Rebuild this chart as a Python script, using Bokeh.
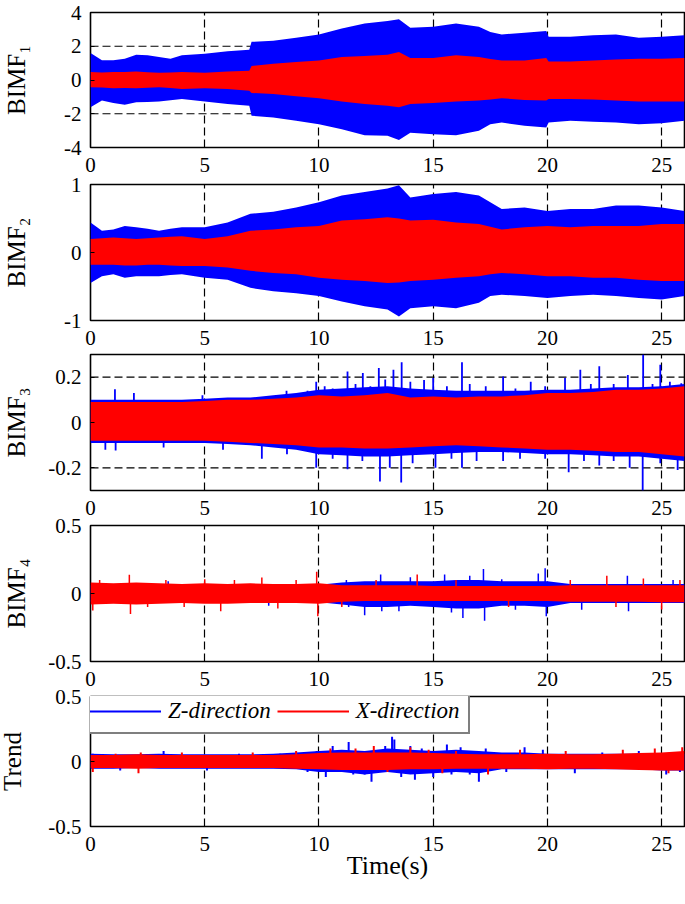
from bokeh.plotting import figure
from bokeh.layouts import column
from bokeh.models import Range1d, FixedTicker, Span, Legend, LegendItem
from bokeh.embed import file_html
from bokeh.resources import INLINE

# ---------------- data ----------------
XTICKS = [0, 5, 10, 15, 20, 25]

# BIMF1 envelopes
T1 = [0, 0.5, 1, 1.5, 2, 2.5, 3, 3.5, 4, 5, 6, 6.95, 7.05, 8, 9, 10, 11, 12, 13, 13.5,
      14, 15, 16, 17, 17.5, 18, 19, 19.95, 20.05, 21, 22, 23, 24, 25, 26]
Z1_hi = [1.6, 1.17, 1.17, 1.26, 1.5, 1.46, 1.36, 1.26, 1.46, 1.56, 1.7, 1.8, 2.26, 2.32, 2.5, 2.7, 3.05, 3.35, 3.5, 3.6,
         3.1, 3.15, 3.35, 3.15, 2.85, 2.7, 2.8, 2.9, 2.56, 2.56, 2.65, 2.7, 2.5, 2.56, 2.65]
Z1_lo = [-1.62, -1.22, -1.36, -1.46, -1.32, -1.3, -1.28, -1.2, -1.12, -1.28, -1.42, -1.52, -2.12, -2.22, -2.42, -2.62, -2.92, -3.27, -3.31, -3.55,
         -3.12, -3.21, -3.27, -3.01, -2.62, -2.52, -2.71, -2.81, -2.52, -2.42, -2.48, -2.52, -2.62, -2.56, -2.42]
X1_hi = [0.47, 0.45, 0.47, 0.48, 0.5, 0.46, 0.43, 0.45, 0.47, 0.43, 0.5, 0.55, 0.83, 0.97, 1.06, 1.16, 1.36, 1.42, 1.5, 1.66,
         1.3, 1.3, 1.46, 1.36, 1.25, 1.16, 1.16, 1.3, 1.1, 1.1, 1.16, 1.22, 1.26, 1.26, 1.3]
X1_lo = [-0.43, -0.45, -0.49, -0.48, -0.49, -0.46, -0.43, -0.47, -0.53, -0.49, -0.53, -0.63, -0.77, -0.83, -0.97, -1.08, -1.28, -1.42, -1.52, -1.62,
         -1.42, -1.36, -1.28, -1.22, -1.15, -1.08, -1.18, -1.22, -1.12, -1.12, -1.16, -1.22, -1.28, -1.28, -1.28]

# BIMF2 envelopes
T2 = [0, 0.5, 1, 1.5, 2, 2.5, 3, 3.5, 4, 5, 6, 7, 8, 9, 10, 11, 12, 13, 13.5, 14, 15, 16, 17, 17.5,
      18, 19, 20, 21, 22, 23, 24, 25, 26]
Z2_hi = [0.44, 0.32, 0.34, 0.39, 0.37, 0.35, 0.32, 0.35, 0.37, 0.37, 0.44, 0.57, 0.6, 0.66, 0.74, 0.84, 0.89, 0.94, 0.99, 0.81,
         0.86, 0.89, 0.84, 0.74, 0.64, 0.66, 0.61, 0.64, 0.64, 0.69, 0.69, 0.66, 0.61]
Z2_lo = [-0.45, -0.35, -0.32, -0.37, -0.35, -0.35, -0.35, -0.33, -0.32, -0.37, -0.4, -0.52, -0.57, -0.6, -0.64, -0.72, -0.79, -0.84, -0.94, -0.82,
         -0.79, -0.82, -0.74, -0.64, -0.62, -0.64, -0.67, -0.64, -0.62, -0.64, -0.67, -0.69, -0.64]
X2_hi = [0.2, 0.21, 0.22, 0.21, 0.2, 0.21, 0.22, 0.23, 0.24, 0.2, 0.24, 0.32, 0.34, 0.37, 0.39, 0.47, 0.49, 0.52, 0.5, 0.47,
         0.48, 0.44, 0.42, 0.38, 0.34, 0.37, 0.39, 0.37, 0.39, 0.39, 0.39, 0.42, 0.42]
X2_lo = [-0.18, -0.18, -0.18, -0.19, -0.19, -0.18, -0.18, -0.19, -0.2, -0.2, -0.22, -0.27, -0.3, -0.32, -0.37, -0.4, -0.42, -0.45, -0.44, -0.42,
         -0.4, -0.37, -0.35, -0.32, -0.3, -0.32, -0.35, -0.35, -0.37, -0.37, -0.4, -0.42, -0.42]

# BIMF3 envelopes + peaks
T3 = list(range(0, 27))
X3_hi = [0.09, 0.09, 0.09, 0.09, 0.09, 0.095, 0.1, 0.1, 0.105, 0.11, 0.12, 0.115, 0.12, 0.13, 0.11, 0.115, 0.11, 0.115,
         0.115, 0.12, 0.13, 0.13, 0.135, 0.145, 0.145, 0.15, 0.16]
X3_lo = [-0.08, -0.08, -0.08, -0.08, -0.08, -0.08, -0.085, -0.09, -0.095, -0.1, -0.11, -0.11, -0.115, -0.115, -0.11, -0.105,
         -0.1, -0.105, -0.11, -0.115, -0.12, -0.12, -0.125, -0.13, -0.13, -0.14, -0.15]
Z3_hi = [0.1, 0.1, 0.1, 0.1, 0.1, 0.105, 0.11, 0.11, 0.12, 0.13, 0.145, 0.15, 0.155, 0.16, 0.15, 0.145, 0.14, 0.14,
         0.14, 0.14, 0.145, 0.145, 0.15, 0.155, 0.155, 0.16, 0.17]
Z3_lo = [-0.09, -0.09, -0.09, -0.09, -0.09, -0.09, -0.095, -0.1, -0.11, -0.12, -0.14, -0.145, -0.15, -0.15, -0.145, -0.14,
         -0.135, -0.13, -0.13, -0.135, -0.14, -0.14, -0.145, -0.15, -0.15, -0.16, -0.17]
Z3_pk_t = [1.07, 1.9, 4.9, 8.58, 9.5, 9.88, 10.25, 10.6, 11.25, 11.6, 11.92, 12.25, 12.62, 12.9, 13.26, 13.62, 14.0, 14.6,
           15.0, 15.6, 16.26, 16.6, 17.3, 18.06, 18.6, 19.27, 19.9, 20.77, 21.44, 21.9, 22.27, 22.9, 23.52, 24.19, 24.6,
           24.94, 25.36, 25.86,
           0.65, 1.1, 3.2, 5.8, 7.5, 8.6, 9.88, 10.6, 11.25, 11.9, 12.67, 13.1, 13.6, 14.1, 15.1, 15.8, 16.26, 16.9,
           18.06, 18.8, 19.9, 20.93, 21.6, 22.27, 22.9, 23.6, 24.17, 24.94, 25.7]
Z3_pk_v = [0.147, 0.13, 0.12, 0.14, 0.14, 0.18, 0.16, 0.15, 0.225, 0.17, 0.218, 0.16, 0.24, 0.19, 0.233, 0.266, 0.18, 0.188,
           0.196, 0.16, 0.266, 0.17, 0.16, 0.203, 0.15, 0.18, 0.16, 0.196, 0.233, 0.17, 0.248, 0.17, 0.21, 0.3, 0.17,
           0.255, 0.18, 0.173,
           -0.12, -0.124, -0.11, -0.12, -0.16, -0.14, -0.2, -0.16, -0.206, -0.17, -0.26, -0.2, -0.265, -0.18, -0.2, -0.16,
           -0.2, -0.17, -0.17, -0.16, -0.16, -0.22, -0.17, -0.19, -0.17, -0.2, -0.3, -0.18, -0.21]

# BIMF4 envelopes + peaks
T4 = list(range(0, 27))
Z4_hi = [0.06, 0.06, 0.06, 0.06, 0.06, 0.06, 0.06, 0.06, 0.06, 0.06, 0.065, 0.08, 0.09, 0.09, 0.09, 0.09, 0.1, 0.1, 0.09,
         0.09, 0.09, 0.07, 0.07, 0.07, 0.07, 0.07, 0.07]
Z4_lo = [-0.06, -0.06, -0.06, -0.06, -0.06, -0.06, -0.06, -0.06, -0.06, -0.06, -0.065, -0.08, -0.1, -0.1, -0.09, -0.1, -0.11,
         -0.11, -0.09, -0.09, -0.1, -0.07, -0.07, -0.07, -0.07, -0.07, -0.07]
X4_hi = [0.08, 0.075, 0.08, 0.075, 0.07, 0.075, 0.07, 0.075, 0.07, 0.07, 0.075, 0.06, 0.06, 0.06, 0.06, 0.055, 0.055, 0.055,
         0.055, 0.055, 0.055, 0.06, 0.06, 0.06, 0.06, 0.06, 0.06]
X4_lo = [-0.08, -0.075, -0.08, -0.075, -0.07, -0.075, -0.075, -0.07, -0.07, -0.07, -0.075, -0.06, -0.055, -0.055, -0.055,
         -0.055, -0.055, -0.055, -0.055, -0.055, -0.055, -0.06, -0.06, -0.06, -0.06, -0.065, -0.065]
Z4_pk_t = [3.4, 7.8, 11.2, 11.3, 12.0, 12.7, 12.75, 13.5, 14.0, 15.5, 15.8, 16.3, 16.6, 17.2, 17.25, 18.0, 18.6, 19.6,
           19.9, 19.95, 21.5, 23.5, 23.55, 25.5]
Z4_pk_v = [0.09, -0.09, 0.1, -0.1, -0.16, 0.14, -0.13, -0.13, 0.12, 0.14, -0.14, -0.18, 0.13, 0.18, -0.2, 0.105, -0.12,
           0.147, 0.186, -0.167, -0.12, 0.13, -0.13, 0.1]
X4_pk_t = [0.1, 0.4, 1.7, 1.75, 2.5, 3.3, 4.1, 5.0, 5.7, 6.3, 7.5, 8.2, 9.0, 9.9, 9.95, 11.0, 12.5, 14.3, 16.0, 18.3,
           21.0, 22.6, 23.0, 24.2, 25.0, 25.8]
X4_pk_v = [-0.125, 0.1, 0.137, -0.15, -0.1, 0.1, -0.1, 0.105, -0.13, 0.1, 0.117, -0.11, 0.1, 0.16, -0.167, -0.1, 0.1, 0.14,
           0.1, -0.1, 0.1, 0.13, -0.1, 0.11, -0.117, 0.1]

# Trend envelopes + peaks
T5 = list(range(0, 27))
Z5_hi = [0.06, 0.055, 0.055, 0.06, 0.055, 0.055, 0.055, 0.055, 0.06, 0.07, 0.08, 0.09, 0.08, 0.1, 0.09, 0.08, 0.09, 0.08,
         0.07, 0.07, 0.06, 0.06, 0.06, 0.06, 0.06, 0.06, 0.06]
Z5_lo = [-0.055, -0.055, -0.05, -0.055, -0.055, -0.055, -0.055, -0.055, -0.055, -0.06, -0.08, -0.08, -0.1, -0.08, -0.1,
         -0.09, -0.08, -0.09, -0.06, -0.06, -0.06, -0.06, -0.06, -0.06, -0.06, -0.07, -0.07]
X5_hi = [0.05, 0.05, 0.055, 0.05, 0.05, 0.05, 0.05, 0.05, 0.05, 0.055, 0.065, 0.07, 0.07, 0.07, 0.07, 0.065, 0.06, 0.055,
         0.055, 0.055, 0.06, 0.055, 0.055, 0.06, 0.065, 0.07, 0.08]
X5_lo = [-0.05, -0.05, -0.055, -0.05, -0.05, -0.05, -0.05, -0.05, -0.05, -0.055, -0.06, -0.065, -0.065, -0.065, -0.06,
         -0.06, -0.055, -0.055, -0.055, -0.055, -0.06, -0.055, -0.055, -0.06, -0.065, -0.07, -0.07]
Z5_pk_t = [0.1, 1.3, 3.2, 5.1, 6.5, 8.3, 9.5, 9.9, 10.3, 10.6, 11.3, 11.5, 12.0, 12.3, 12.5, 12.9, 13.2, 13.3, 13.6,
           14.0, 14.2, 14.5, 15.0, 15.3, 15.6, 15.8, 16.2, 16.6, 17.0, 17.3, 18.2, 19.0, 19.8, 21.2, 22.4, 24.0, 25.2, 25.8]
Z5_pk_v = [0.06, -0.07, 0.08, -0.07, 0.06, 0.06, -0.08, 0.08, -0.12, 0.12, 0.15, -0.1, -0.1, -0.155, 0.07, 0.12, 0.19,
           0.17, -0.12, 0.12, -0.14, 0.1, -0.12, 0.07, 0.13, -0.1, 0.11, -0.1, -0.155, 0.1, -0.08, 0.11, 0.09, -0.09,
           0.07, 0.08, -0.1, -0.08]
X5_pk_t = [0.1, 1.1, 2.1, 2.2, 4.0, 7.1, 9.0, 10.5, 11.6, 12.4, 13.0, 14.0, 14.8, 15.4, 16.0, 17.4, 18.8, 20.8, 23.3,
           24.7, 25.3, 25.9]
X5_pk_v = [-0.08, 0.06, -0.09, 0.07, 0.07, 0.07, 0.08, 0.1, 0.1, 0.12, -0.08, 0.11, 0.09, -0.09, 0.08, -0.1, 0.09, 0.08,
           0.09, 0.1, -0.09, 0.11]

THR1 = [2, -2]
THR3 = [0.2, -0.2]

BLUE = "#0000ff"
RED = "#ff0000"
FONT = "Liberation Serif"
LEFT_PAD = 20  # canvas starts 20px left of the window edge


def make_fig(height, top, frame_h, yr, yticks, ylabels, label, label_standoff, shift):
    bottom = height - top - frame_h
    p = figure(width=594 + 90 + LEFT_PAD + 1, height=height, x_range=Range1d(0, 26), y_range=Range1d(*yr),
               output_backend="svg", toolbar_location=None,
               min_border_left=90 + LEFT_PAD, min_border_right=1, min_border_top=top, min_border_bottom=bottom)
    p.background_fill_color = "white"
    p.border_fill_alpha = 0
    p.outline_line_color = "black"
    p.outline_line_width = 1.6
    p.outline_line_alpha = 1.0
    if shift:
        p.styles = {"margin-top": "%dpx" % shift}
    p.xaxis.ticker = FixedTicker(ticks=XTICKS)
    p.yaxis.ticker = FixedTicker(ticks=yticks)
    p.yaxis.major_label_overrides = {v: s for v, s in zip(yticks, ylabels)}
    p.xaxis.major_label_overrides = {v: str(v) for v in XTICKS}
    for ax in (p.xaxis, p.yaxis):
        ax.axis_line_color = None
        ax.major_tick_in = 4
        ax.major_tick_out = 0
        ax.major_tick_line_color = "black"
        ax.minor_tick_line_color = None
        ax.major_label_text_font = FONT
        ax.major_label_text_font_size = "21px"
        ax.major_label_text_color = "black"
    p.xaxis.major_label_standoff = 10
    p.yaxis.major_label_standoff = 9
    p.yaxis.axis_label = label
    p.yaxis.axis_label_text_font = FONT
    p.yaxis.axis_label_text_font_size = "25px"
    p.yaxis.axis_label_text_font_style = "normal"
    p.yaxis.axis_label_text_color = "black"
    p.yaxis.axis_label_standoff = label_standoff
    p.xgrid.grid_line_color = "black"
    p.xgrid.grid_line_dash = "8 4"
    p.xgrid.grid_line_width = 1.2
    p.ygrid.grid_line_color = None
    return p


def thresholds(p, vals):
    for v in vals:
        p.add_layout(Span(location=v, dimension="width", line_color="black", line_dash="8 4",
                          line_width=1.2, level="underlay"))


# Panel 1  (frame 12..147)
p1 = make_fig(187, 12, 135, (-4, 4), [-4, -2, 0, 2, 4], ["-4", "-2", "0", "2", "4"], "BIMF₁", 31, 0)
thresholds(p1, THR1)
p1.varea(x=T1, y1=Z1_lo, y2=Z1_hi, fill_color=BLUE)
p1.varea(x=T1, y1=X1_lo, y2=X1_hi, fill_color=RED)

# Panel 2  (frame 184..320)
p2 = make_fig(196, 20, 136, (-1, 1), [-1, 0, 1], ["-1", "0", "1"], "BIMF₂", 31, -23)
p2.varea(x=T2, y1=Z2_lo, y2=Z2_hi, fill_color=BLUE)
p2.varea(x=T2, y1=X2_lo, y2=X2_hi, fill_color=RED)

# Panel 3  (frame 354..490)
p3 = make_fig(196, 20, 136, (-0.3, 0.3), [-0.2, 0, 0.2], ["-0.2", "0", "0.2"], "BIMF₃", 15, -26)
thresholds(p3, THR3)
p3.varea(x=T3, y1=Z3_lo, y2=Z3_hi, fill_color=BLUE)
p3.segment(x0=Z3_pk_t, y0=0, x1=Z3_pk_t, y1=Z3_pk_v, line_color=BLUE, line_width=1.8)
p3.varea(x=T3, y1=X3_lo, y2=X3_hi, fill_color=RED)

# Panel 4  (frame 525..661)
p4 = make_fig(196, 20, 136, (-0.5, 0.5), [-0.5, 0, 0.5], ["-0.5", "0", "0.5"], "BIMF₄", 15, -25)
p4.varea(x=T4, y1=Z4_lo, y2=Z4_hi, fill_color=BLUE)
p4.segment(x0=Z4_pk_t, y0=0, x1=Z4_pk_t, y1=Z4_pk_v, line_color=BLUE, line_width=1.5)
p4.varea(x=T4, y1=X4_lo, y2=X4_hi, fill_color=RED)
p4.segment(x0=X4_pk_t, y0=0, x1=X4_pk_t, y1=X4_pk_v, line_color=RED, line_width=1.5)

# Panel 5 (Trend)  (frame 696..832)
p5 = make_fig(206, 20, 136, (-0.5, 0.5), [-0.5, 0, 0.5], ["-0.5", "0", "0.5"], "Trend", 19, -25)
p5.varea(x=T5, y1=Z5_lo, y2=Z5_hi, fill_color=BLUE)
rz = p5.segment(x0=Z5_pk_t, y0=0, x1=Z5_pk_t, y1=Z5_pk_v, line_color=BLUE, line_width=2)
p5.varea(x=T5, y1=X5_lo, y2=X5_hi, fill_color=RED)
rx = p5.segment(x0=X5_pk_t, y0=0, x1=X5_pk_t, y1=X5_pk_v, line_color=RED, line_width=2)
p5.xaxis.axis_label = "Time(s)"
p5.xaxis.axis_label_text_font = FONT
p5.xaxis.axis_label_text_font_size = "26px"
p5.xaxis.axis_label_text_font_style = "normal"
p5.xaxis.axis_label_text_color = "black"
p5.xaxis.axis_label_standoff = -3

legend = Legend(items=[LegendItem(label="Z-direction", renderers=[rz]),
                       LegendItem(label="X-direction", renderers=[rx])],
                location=(-11, 92), orientation="horizontal",
                label_text_font=FONT, label_text_font_size="23px", label_text_font_style="italic",
                label_text_color="black",
                glyph_width=72, glyph_height=24, label_height=24, label_standoff=7,
                spacing=6, padding=8, margin=0,
                border_line_color="black", border_line_width=2,
                background_fill_color="white", background_fill_alpha=1.0)
p5.add_layout(legend)

layout = column(p1, p2, p3, p4, p5, spacing=0)
layout.styles = {"margin-left": "-%dpx" % LEFT_PAD}
open("out.html", "w").write(file_html(layout, INLINE))
